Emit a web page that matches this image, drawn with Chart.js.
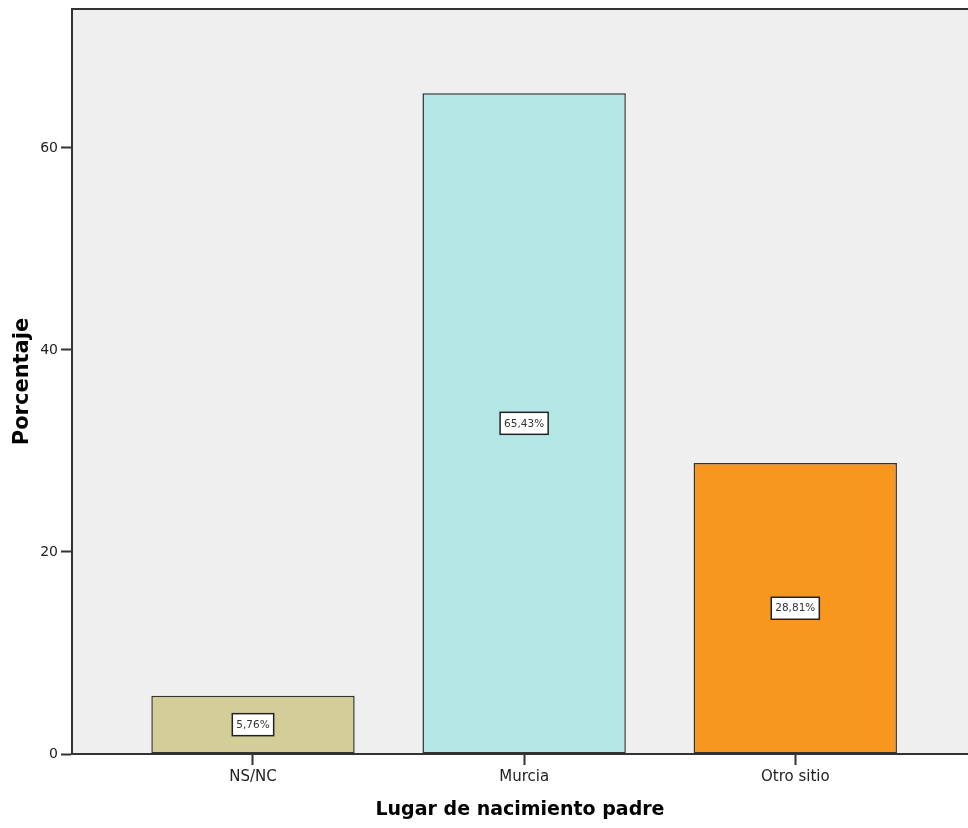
<!DOCTYPE html>
<html>
<head>
<meta charset="utf-8">
<script src="https://cdn.jsdelivr.net/npm/chart.js@4.4.1/dist/chart.umd.min.js"></script>
<style>
  html, body { margin: 0; padding: 0; background: #ffffff; }
  #wrap { width: 968px; height: 828px; position: relative; }
</style>
</head>
<body>
<div id="wrap"><canvas id="c" width="968" height="828"></canvas></div>
<script>
const categories = ['NS/NC', 'Murcia', 'Otro sitio'];
const percentages = [5.76, 65.43, 28.81];
const barColors = ['#d3ce97', '#b5e6e6', '#f7971f'];
const yTicks = [0, 20, 40, 60];
const xTitle = 'Lugar de nacimiento padre';
const yTitle = 'Porcentaje';

const points = categories.map((c, i) => ({ x: i + 1, y: percentages[i] }));

const plotBg = {
  id: 'plotBg',
  beforeDraw(chart) {
    const { ctx, chartArea: a } = chart;
    ctx.save();
    ctx.fillStyle = '#efefef';
    ctx.fillRect(a.left, a.top, a.right - a.left, a.bottom - a.top);
    ctx.strokeStyle = '#333333';
    ctx.lineWidth = 2;
    ctx.beginPath();
    ctx.moveTo(a.left, a.top);
    ctx.lineTo(a.right, a.top);
    ctx.stroke();
    ctx.restore();
  }
};

const boxLabels = {
  id: 'boxLabels',
  afterDatasetsDraw(chart) {
    const { ctx } = chart;
    const meta = chart.getDatasetMeta(0);
    ctx.save();
    ctx.font = '10.5px "DejaVu Sans"';
    ctx.textAlign = 'center';
    ctx.textBaseline = 'middle';
    meta.data.forEach((bar, i) => {
      const txt = percentages[i].toFixed(2).replace('.', ',') + '%';
      const w = ctx.measureText(txt).width + 8;
      const h = 22;
      const cx = bar.x;
      const cy = (bar.y + bar.base) / 2;
      ctx.fillStyle = '#ffffff';
      ctx.fillRect(cx - w / 2, cy - h / 2, w, h);
      ctx.strokeStyle = '#222222';
      ctx.lineWidth = 1.5;
      ctx.strokeRect(cx - w / 2, cy - h / 2, w, h);
      ctx.fillStyle = '#333333';
      ctx.fillText(txt, cx, cy + 0.5);
    });
    ctx.restore();
  }
};

new Chart(document.getElementById('c'), {
  type: 'bar',
  data: {
    datasets: [{
      data: points,
      backgroundColor: barColors,
      borderColor: '#333333',
      borderWidth: 1.5,
      borderSkipped: false,
      barPercentage: 0.75,
      categoryPercentage: 1.0
    }]
  },
  options: {
    responsive: false,
    animation: false,
    layout: { padding: { top: 9, right: 0, left: 0, bottom: 0 } },
    plugins: { legend: { display: false }, tooltip: { enabled: false } },
    scales: {
      x: {
        type: 'linear',
        min: 0.3325,
        max: 3.637,
        offset: false,
        afterFit(s) { s.height = 74; s.paddingLeft = 0; s.paddingRight = 0; },
        afterBuildTicks(s) { s.ticks = categories.map((c, i) => ({ value: i + 1 })); },
        ticks: {
          callback: (v) => categories[v - 1] || '',
          font: { family: 'DejaVu Sans', size: 15 },
          color: '#222222',
          padding: 3,
          maxRotation: 0,
          autoSkip: false
        },
        grid: { offset: false, drawOnChartArea: false, drawTicks: true, tickLength: 11, tickColor: '#333333', tickWidth: 2 },
        border: { display: true, color: '#333333', width: 2 },
        title: {
          display: true,
          text: xTitle,
          font: { family: 'DejaVu Sans', size: 19, weight: 'bold' },
          color: '#000000',
          padding: { top: 0, bottom: 7 }
        }
      },
      y: {
        min: 0,
        max: 73.76,
        afterFit(s) { s.width = 72; s.paddingTop = 0; s.paddingBottom = 0; },
        afterBuildTicks(s) { s.ticks = yTicks.map(v => ({ value: v })); },
        ticks: {
          font: { family: 'DejaVu Sans', size: 14 },
          color: '#222222',
          padding: 3
        },
        grid: { drawOnChartArea: false, drawTicks: true, tickLength: 11, tickColor: '#333333', tickWidth: 2 },
        border: { display: true, color: '#333333', width: 2 },
        title: {
          display: true,
          text: yTitle,
          font: { family: 'DejaVu Sans', size: 21, weight: 'bold' },
          color: '#000000',
          padding: { top: 10, bottom: 0 }
        }
      }
    }
  },
  plugins: [plotBg, boxLabels]
});
</script>
</body>
</html>
